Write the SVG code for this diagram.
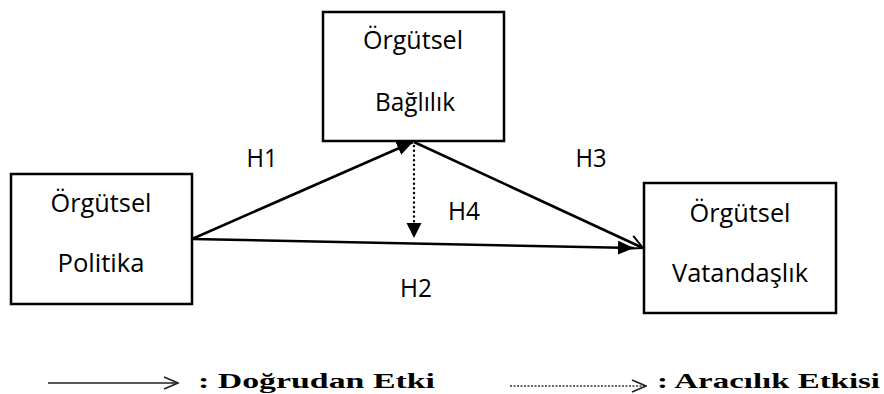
<svg xmlns="http://www.w3.org/2000/svg" width="884" height="394" viewBox="0 0 884 394">
<style>
.box{fill:#fff;stroke:#000;stroke-width:2.5}
.lbl{font-family:"Open Sans","Noto Sans",sans-serif;font-size:25px;fill:#000;text-anchor:middle}
.conn{stroke:#000;stroke-width:2.6;fill:none}
.dot{stroke:#000;stroke-width:2.4;fill:none;stroke-dasharray:0.1 4.6;stroke-linecap:round}
.leg{font-family:"Liberation Serif","Times New Roman",serif;font-weight:bold;font-size:22px;fill:#000}
</style>
<defs>
<marker id="fill" viewBox="0 0 16 14" refX="16" refY="7" markerWidth="16" markerHeight="14" markerUnits="userSpaceOnUse" orient="auto">
<path d="M0,0 L16,7 L0,14 Z" fill="#000"/>
</marker>
<marker id="open" viewBox="0 0 16 16" refX="15" refY="8" markerWidth="16" markerHeight="16" markerUnits="userSpaceOnUse" orient="auto">
<path d="M1,1 L15,8 L1,15" fill="none" stroke="#000" stroke-width="2"/>
</marker>
<marker id="legopen" viewBox="0 0 16 14" refX="15" refY="7" markerWidth="16" markerHeight="14" markerUnits="userSpaceOnUse" orient="auto">
<path d="M1,1 L15,7 L1,13" fill="none" stroke="#222" stroke-width="1.6"/>
</marker>
</defs>

<g id="connectors">
<line id="h1" class="conn" x1="192" y1="239" x2="413" y2="142" marker-end="url(#fill)"/>
<line id="h2" class="conn" x1="192" y1="239" x2="634" y2="248" marker-end="url(#fill)"/>
<line id="h3" class="conn" x1="414" y1="142" x2="643" y2="248" marker-end="url(#open)"/>
<line id="h4" class="dot" x1="414" y1="146" x2="414" y2="226"/>
<path d="M406.5,223 L421.5,223 L414,238 Z" fill="#000"/>
</g>

<g id="node-baglilik">
<rect class="box" x="323" y="12" width="181" height="129"/>
<text class="lbl" x="413" y="49" textLength="100" lengthAdjust="spacingAndGlyphs">Örgütsel</text>
<text class="lbl" x="415" y="111" textLength="80" lengthAdjust="spacingAndGlyphs">Bağlılık</text>
</g>

<g id="node-politika">
<rect class="box" x="11" y="174" width="181" height="130"/>
<text class="lbl" x="101" y="212" textLength="101" lengthAdjust="spacingAndGlyphs">Örgütsel</text>
<text class="lbl" x="101" y="272" textLength="87" lengthAdjust="spacingAndGlyphs">Politika</text>
</g>

<g id="node-vatandaslik">
<rect class="box" x="644" y="183" width="192" height="130"/>
<text class="lbl" x="740" y="222" textLength="101" lengthAdjust="spacingAndGlyphs">Örgütsel</text>
<text class="lbl" x="740" y="282" textLength="136" lengthAdjust="spacingAndGlyphs">Vatandaşlık</text>
</g>

<g id="labels">
<text class="lbl" x="262" y="167" textLength="31" lengthAdjust="spacingAndGlyphs">H1</text>
<text class="lbl" x="416" y="297" textLength="32" lengthAdjust="spacingAndGlyphs">H2</text>
<text class="lbl" x="591" y="167" textLength="31" lengthAdjust="spacingAndGlyphs">H3</text>
<text class="lbl" x="464" y="220" textLength="32" lengthAdjust="spacingAndGlyphs">H4</text>
</g>

<g id="legend">
<line x1="48" y1="383" x2="178" y2="383" stroke="#222" stroke-width="1.6" marker-end="url(#legopen)"/>
<text class="leg" x="198" y="388" textLength="237" lengthAdjust="spacingAndGlyphs">: Doğrudan Etki</text>
<line x1="510" y1="386" x2="646" y2="386" stroke="#333" stroke-width="1.4" stroke-dasharray="2 1.5" marker-end="url(#legopen)"/>
<text class="leg" x="657" y="388" textLength="223" lengthAdjust="spacingAndGlyphs">: Aracılık Etkisi</text>
</g>
</svg>
